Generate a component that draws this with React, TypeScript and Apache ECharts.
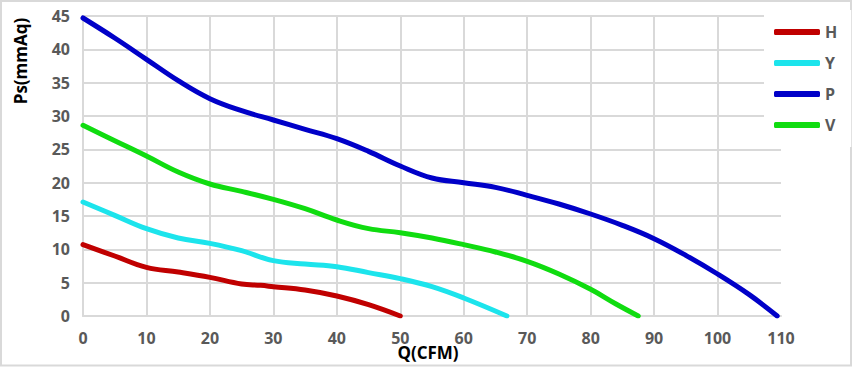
import React, { useEffect, useRef } from "react";
import * as echarts from "echarts";

const seriesNames = ["H", "Y", "P", "V"];
const seriesColors = ["#C00000", "#1CE4EC", "#0000C8", "#10DC10"];

const dataH: [number, number][] = [
  [0, 10.7], [5, 9.0], [10, 7.3], [15, 6.6], [20, 5.8], [25, 4.8], [28, 4.6],
  [30, 4.4], [35, 3.9], [40, 3.0], [45, 1.7], [50, 0],
];
const dataY: [number, number][] = [
  [0, 17.1], [5, 15.1], [10, 13.1], [15, 11.7], [20, 10.9], [25, 9.8], [30, 8.3],
  [35, 7.8], [40, 7.4], [45, 6.5], [50, 5.6], [55, 4.4], [60, 2.7], [66.8, 0],
];
const dataP: [number, number][] = [
  [0, 44.7], [5, 41.7], [10, 38.5], [15, 35.3], [20, 32.6], [25, 30.8], [30, 29.4],
  [35, 28.0], [40, 26.6], [45, 24.7], [50, 22.5], [55, 20.7], [60, 20.0], [65, 19.3],
  [70, 18.1], [75, 16.8], [80, 15.3], [85, 13.6], [90, 11.6], [95, 9.1], [100, 6.3],
  [105, 3.2], [109.4, 0],
];
const dataV: [number, number][] = [
  [0, 28.6], [5, 26.3], [10, 24.0], [15, 21.6], [20, 19.8], [25, 18.7], [30, 17.5],
  [35, 16.1], [40, 14.4], [45, 13.1], [50, 12.5], [55, 11.7], [60, 10.7], [65, 9.6],
  [70, 8.2], [75, 6.3], [80, 4.0], [84, 1.8], [87.5, 0],
];
const allData = [dataH, dataY, dataP, dataV];

const xTitle = "Q(CFM)";
const yTitle = "Ps(mmAq)";

const FONT = "'Open Sans', 'Noto Sans', sans-serif";

export default function App() {
  const ref = useRef<HTMLDivElement>(null);
  useEffect(() => {
    if (!ref.current) return;
    const chart = echarts.init(ref.current, undefined, { renderer: "svg" });
    chart.setOption({
      animation: false,
      backgroundColor: "#ffffff",
      grid: { left: 83, right: 72, top: 16, bottom: 53 },
      legend: {
        orient: "vertical",
        left: 764,
        top: 10,
        padding: [14, 14, 14, 10],
        backgroundColor: "#ffffff",
        itemWidth: 46,
        itemHeight: 6,
        itemGap: 15,
        icon: "roundRect",
        data: seriesNames,
        textStyle: { fontFamily: FONT, fontWeight: "bold", fontSize: 16, color: "#595959" },
      },
      xAxis: {
        type: "value",
        min: 0,
        max: 110,
        interval: 10,
        axisLine: { show: true, lineStyle: { color: "#d9d9d9", width: 2 } },
        axisTick: { show: false },
        axisLabel: { margin: 14, fontFamily: FONT, fontWeight: "bold", fontSize: 16, color: "#595959" },
        splitLine: { show: true, showMaxLine: false, lineStyle: { color: "#d9d9d9", width: 2 } },
      },
      yAxis: {
        type: "value",
        min: 0,
        max: 45,
        interval: 5,
        axisLine: { show: true, lineStyle: { color: "#d9d9d9", width: 2 } },
        axisTick: { show: false },
        axisLabel: { margin: 13, fontFamily: FONT, fontWeight: "bold", fontSize: 16, color: "#595959" },
        splitLine: { show: true, lineStyle: { color: "#d9d9d9", width: 2 } },
      },
      series: seriesNames.map((name, i) => ({
        name,
        type: "line",
        data: allData[i],
        smooth: 0.4,
        showSymbol: false,
        symbol: "none",
        color: seriesColors[i],
        lineStyle: { width: 5, color: seriesColors[i], cap: "round" },
        z: 3,
      })),
      graphic: [
        {
          type: "rect",
          shape: { x: 1, y: 1, width: 850, height: 364.5 },
          style: { fill: "none", stroke: "#d9d9d9", lineWidth: 2 },
          silent: true,
        },
        {
          type: "text",
          x: 20,
          y: 61,
          rotation: Math.PI / 2,
          style: {
            text: yTitle,
            textAlign: "center",
            textVerticalAlign: "middle",
            fontFamily: FONT,
            fontWeight: "bold",
            fontSize: 17,
            fill: "#000000",
          },
        },
        {
          type: "text",
          x: 428,
          y: 352,
          style: {
            text: xTitle,
            textAlign: "center",
            textVerticalAlign: "middle",
            fontFamily: FONT,
            fontWeight: "bold",
            fontSize: 17,
            fill: "#000000",
          },
        },
      ],
    });
    return () => chart.dispose();
  }, []);
  return (
    <div
      ref={ref}
      style={{ position: "fixed", left: 0, top: 0, width: 853, height: 369 }}
    />
  );
}
